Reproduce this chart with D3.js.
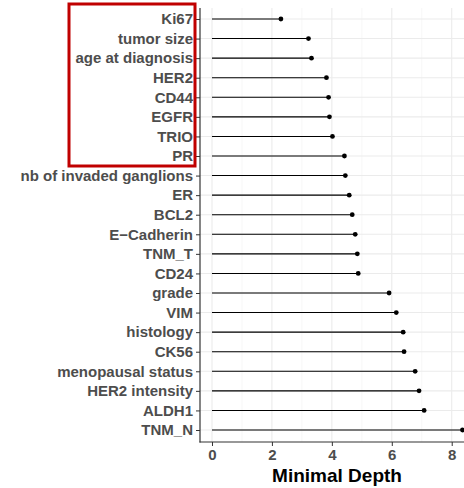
<!DOCTYPE html>
<html><head><meta charset="utf-8">
<script src="https://cdn.jsdelivr.net/npm/d3@7"></script>
<style>body{margin:0;background:#fff}</style>
</head><body><div id="app"></div>
<script>
const variables = ["Ki67","tumor size","age at diagnosis","HER2","CD44","EGFR","TRIO","PR",
  "nb of invaded ganglions","ER","BCL2","E\u2212Cadherin","TNM_T","CD24","grade","VIM",
  "histology","CK56","menopausal status","HER2 intensity","ALDH1","TNM_N"];
const depths = [2.3,3.22,3.32,3.82,3.89,3.92,4.02,4.42,4.45,4.58,4.68,4.78,4.85,4.88,5.91,6.15,6.38,6.41,6.78,6.91,7.08,8.36];
const xTicks = [0,2,4,6,8];

const W = 464, H = 488;
const svg = d3.select('#app').append('svg').attr('width', W).attr('height', H);
const x = d3.scaleLinear().domain([-0.4, 8.41]).range([200, 464]);
const y = d3.scalePoint().domain(variables).range([19, 430]);
const panelTop = 8, panelBottom = 442;

// grid
svg.append('g').selectAll('line').data([1, 3, 5, 7])
  .join('line').attr('x1', d => x(d)).attr('x2', d => x(d)).attr('y1', panelTop).attr('y2', panelBottom)
  .attr('stroke', '#f2f2f2').attr('stroke-width', 0.6);
svg.append('g').selectAll('line').data(xTicks)
  .join('line').attr('x1', d => x(d)).attr('x2', d => x(d)).attr('y1', panelTop).attr('y2', panelBottom)
  .attr('stroke', '#ebebeb').attr('stroke-width', 1.1);
svg.append('g').selectAll('line').data(variables)
  .join('line').attr('x1', 200).attr('x2', W).attr('y1', d => y(d)).attr('y2', d => y(d))
  .attr('stroke', '#ebebeb').attr('stroke-width', 1.1);

// lollipops
const g = svg.append('g');
g.selectAll('line').data(variables).join('line')
  .attr('x1', x(0)).attr('x2', (d, i) => x(depths[i]))
  .attr('y1', d => y(d)).attr('y2', d => y(d)).attr('stroke', '#000').attr('stroke-width', 1.1);
g.selectAll('circle').data(variables).join('circle')
  .attr('cx', (d, i) => x(depths[i])).attr('cy', d => y(d)).attr('r', 2.4).attr('fill', '#000');

// axes
const yAxis = svg.append('g').attr('transform', 'translate(200,0)')
  .call(d3.axisLeft(y).tickSize(4).tickPadding(3));
const xAxis = svg.append('g').attr('transform', `translate(0,${panelBottom})`)
  .call(d3.axisBottom(x).tickValues(xTicks).tickSize(4).tickPadding(3));
[yAxis, xAxis].forEach(a => {
  a.select('.domain').remove();
  a.selectAll('line').attr('stroke', '#333');
  a.selectAll('text').attr('fill', '#4d4d4d').style('font-family', 'Liberation Sans, Arial, sans-serif')
    .style('font-size', '15px').style('font-weight', 'bold');
});
svg.append('line').attr('x1', 200).attr('x2', 200).attr('y1', panelTop).attr('y2', panelBottom + 0.5).attr('stroke', '#333').attr('stroke-width', 1.2);
svg.append('line').attr('x1', 199.5).attr('x2', W).attr('y1', panelBottom).attr('y2', panelBottom).attr('stroke', '#333').attr('stroke-width', 1.2);

svg.append('text').attr('x', 337).attr('y', 482).attr('text-anchor', 'middle')
  .style('font-family', 'Liberation Sans, Arial, sans-serif').style('font-size', '19px')
  .style('font-weight', 'bold').text('Minimal Depth');

// highlight box
svg.append('rect').attr('x', 69).attr('y', 4).attr('width', 126).attr('height', 162)
  .attr('fill', 'none').attr('stroke', '#c00000').attr('stroke-width', 3);
</script></body></html>
